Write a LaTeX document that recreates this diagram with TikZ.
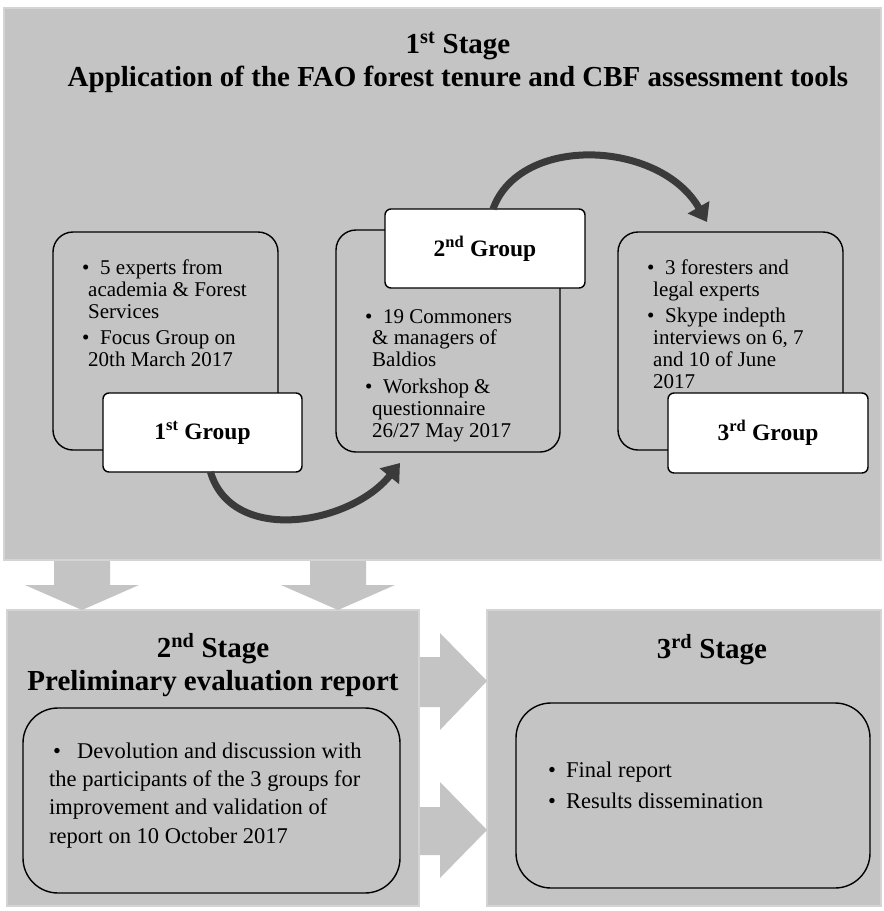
\documentclass[tikz,border=0pt]{standalone}
\usepackage{fontspec}
\setmainfont{Liberation Serif}
\usetikzlibrary{arrows.meta}
\definecolor{panelgray}{HTML}{C4C4C4}
\definecolor{paneledge}{HTML}{D4D4D4}
\definecolor{arrowdark}{HTML}{3A3A3A}
\newcommand\blt[1]{\makebox[#1][l]{\textbullet}}
\begin{document}
\begin{tikzpicture}[x=1pt,y=-1pt,
  panel/.style={fill=panelgray, draw=paneledge, line width=1.2pt, inner sep=0pt, outer sep=0pt},
  innerbox/.style={fill=panelgray, draw=black, line width=1.4pt, rounded corners=20pt, inner sep=0pt, outer sep=0pt},
  bigbox/.style={innerbox, rounded corners=35pt},
  grouplabel/.style={fill=white, draw=black, line width=1.4pt, rounded corners=6pt, inner sep=0pt, outer sep=0pt,
    font=\fontsize{23.5}{25}\selectfont\bfseries},
  blockarrow/.style={fill=panelgray},
  bodytext/.style={anchor=base west, inner sep=0pt, align=left, font=\fontsize{21}{21.7}\selectfont},
  titletext/.style={anchor=base, inner sep=0pt, font=\fontsize{29}{30}\selectfont\bfseries},
  flow/.style={draw=arrowdark, line width=7pt, -{Triangle[length=17pt,width=24pt]}}
]
\useasboundingbox (0,0) rectangle (884,911);
\fill[white] (0,0) rectangle (884,911);

% panels
\node[panel, minimum width=877pt, minimum height=552pt] (stage1) at (442.5,284) {};
\node[panel, minimum width=412pt, minimum height=296pt] (stage2) at (213,758) {};
\node[panel, minimum width=394pt, minimum height=296pt] (stage3) at (684,758) {};

% block arrows
\fill[blockarrow] (54,561) -- (110,561) -- (110,585) -- (139,585) -- (82,610) -- (25,585) -- (54,585) -- cycle;
\fill[blockarrow] (310,561) -- (366,561) -- (366,585) -- (395,585) -- (338,610) -- (281,585) -- (310,585) -- cycle;
\fill[blockarrow] (420,657) -- (440,657) -- (440,633) -- (487,681) -- (440,730) -- (440,707) -- (420,707) -- cycle;
\fill[blockarrow] (420,807) -- (440,807) -- (440,782) -- (487,830) -- (440,878) -- (440,855) -- (420,855) -- cycle;

% titles
\node[titletext] (t1a) at (458,53) {1\textsuperscript{st} Stage};
\node[titletext] (t1b) at (458,86) {Application of the FAO forest tenure and CBF assessment tools};
\node[titletext] (t2a) at (213,657) {2\textsuperscript{nd} Stage};
\node[titletext] (t2b) at (213,690) {Preliminary evaluation report};
\node[titletext] (t3a) at (712,658) {3\textsuperscript{rd} Stage};

% group boxes
\node[innerbox, minimum width=225pt, minimum height=218pt] (g1box) at (165.5,341) {};
\node[innerbox, minimum width=224pt, minimum height=222pt] (g2box) at (448,341) {};
\node[innerbox, minimum width=225pt, minimum height=218pt] (g3box) at (730.5,341) {};

% multi-line nodes: base = baseline of last line
\node[bodytext] (g1txt) at (82,366) {\blt{18pt}5 experts from\\\hspace*{6pt}academia \& Forest\\\hspace*{6pt}Services\\[4.3pt]\blt{18pt}Focus Group on\\\hspace*{6pt}20th March 2017};
\node[bodytext] (g2txt) at (365,437) {\blt{18pt}19 Commoners\\\hspace*{7pt}\& managers of\\\hspace*{7pt}Baldios\\[5.3pt]\blt{18pt}Workshop \&\\\hspace*{7pt}questionnaire\\\hspace*{7pt}26/27 May 2017};
\node[bodytext] (g3txt) at (647,388) {\blt{18pt}3 foresters and\\\hspace*{6pt}legal experts\\[5pt]\blt{18pt}Skype indepth\\\hspace*{6pt}interviews on 6, 7\\\hspace*{6pt}and 10 of June\\\hspace*{6pt}2017};

% group labels and curved flow arrows
\coordinate (a1end) at (400,463);
\coordinate (a2end) at (707,222);
\node[grouplabel, minimum width=199pt, minimum height=79pt] (g1lab) at (202.5,432.5) {1\textsuperscript{st} Group};
\node[grouplabel, minimum width=200pt, minimum height=79pt] (g2lab) at (485,248.5) {2\textsuperscript{nd} Group};
\node[grouplabel, minimum width=200pt, minimum height=80pt] (g3lab) at (768,433) {3\textsuperscript{rd} Group};
\draw[flow] ([xshift=8pt]g1lab.south) .. controls (232,545) and (350,525) .. (a1end);
\draw[flow] ([xshift=8pt]g2lab.north) .. controls (520,134) and (660,140) .. (a2end);

% stage 2 and 3 boxes
\node[bigbox, minimum width=377pt, minimum height=185pt] (s2box) at (211.5,800.5) {};
\node[bodytext, font=\fontsize{22.5}{28.3}\selectfont] (s2txt) at (49,843) {\hspace*{4pt}\blt{24pt}Devolution and discussion with\\the participants of the 3 groups for\\improvement and validation of\\report on 10 October 2017};
\node[bigbox, minimum width=354pt, minimum height=185pt] (s3box) at (693,795.5) {};
\node[bodytext, font=\fontsize{22.5}{31}\selectfont] (s3txt) at (548,808) {\blt{18pt}Final report\\\blt{18pt}Results dissemination};
\end{tikzpicture}
\end{document}
